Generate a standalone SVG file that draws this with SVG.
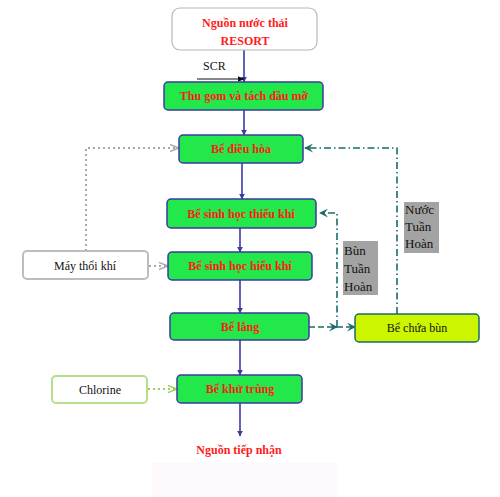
<svg xmlns="http://www.w3.org/2000/svg" width="500" height="497" viewBox="0 0 500 497">
<style>
.p{fill:#22e84a;stroke:#3a3aa8;stroke-width:1.5}
.r{font-family:"Liberation Serif",serif;font-weight:bold;fill:#ff1a1a;font-size:12px;text-anchor:middle}
.k{font-family:"Liberation Serif",serif;fill:#111;font-size:12px}
.g{font-family:"Liberation Serif",serif;fill:#111;font-size:13px}
.m{stroke:#3a3aa8;stroke-width:1.6;fill:none;marker-end:url(#ab)}
.t{stroke:#1a6b6b;stroke-width:1.6;fill:none;marker-end:url(#at)}
.lbl{fill:#a3a3a3}
</style>
<defs>
<marker id="ab" viewBox="0 0 10 10" refX="9" refY="5" markerWidth="6" markerHeight="6" orient="auto" markerUnits="userSpaceOnUse"><path d="M0,0 L10,5 L0,10 Z" fill="#3a3aa8"/></marker>
<marker id="ak" viewBox="0 0 10 10" refX="9" refY="5" markerWidth="7" markerHeight="7" orient="auto" markerUnits="userSpaceOnUse"><path d="M0,1 L10,5 L0,9 Z" fill="#111"/></marker>
<marker id="at" viewBox="0 0 10 10" refX="9" refY="5" markerWidth="9" markerHeight="9" orient="auto" markerUnits="userSpaceOnUse"><path d="M0,0 L10,5 L0,10 L4,5 Z" fill="#1a6b6b"/></marker>
<marker id="ag" viewBox="0 0 10 10" refX="9" refY="5" markerWidth="9" markerHeight="9" orient="auto" markerUnits="userSpaceOnUse"><path d="M0,1 L10,5 L0,9" fill="none" stroke="#a8a8a8" stroke-width="1.5"/></marker>
<marker id="agr" viewBox="0 0 10 10" refX="9" refY="5" markerWidth="9" markerHeight="9" orient="auto" markerUnits="userSpaceOnUse"><path d="M0,1 L10,5 L0,9" fill="none" stroke="#9ad05a" stroke-width="1.5"/></marker>
</defs>
<rect x="152" y="463" width="185" height="34" fill="#fdf9fd"/>
<g id="connectors">
<path class="m" d="M244,50 V82"/>
<path d="M197,79 H244" stroke="#111" stroke-width="1" marker-end="url(#ak)"/>
<path class="m" d="M244,110 V135"/>
<path class="m" d="M242,163 V199"/>
<path class="m" d="M240,228 V252"/>
<path class="m" d="M240,280 V313"/>
<path class="m" d="M240,340 V375"/>
<path class="m" d="M240,403 V436"/>
<path d="M86,251 V148 H178" fill="none" stroke="#a8a8a8" stroke-width="2" stroke-dasharray="2,3" marker-end="url(#ag)"/>
<path d="M149,266 H167" fill="none" stroke="#a8a8a8" stroke-width="2" stroke-dasharray="2,3" marker-end="url(#ag)"/>
<path d="M148,389 H176" fill="none" stroke="#9ad05a" stroke-width="2" stroke-dasharray="2,3" marker-end="url(#agr)"/>
<path class="t" d="M309,327 H337" stroke-dasharray="6,3" marker-end="none"/>
<path class="t" d="M337,327 H355" stroke-dasharray="6,3"/>
<path class="t" d="M337,327 V213 H320" stroke-dasharray="7,3,1.5,3"/>
<path class="t" d="M397,314 V148 H305" stroke-dasharray="7,3,1.5,3"/>
</g>
<g id="n-source"><rect x="172" y="8" width="145" height="42" rx="8" fill="#fff" stroke="#b8b8b8" stroke-width="1.2"/><text class="r" x="245" y="27" font-size="13">Nguồn nước thải</text><text class="r" x="245" y="45" font-size="13">RESORT</text></g>
<g id="scr"><text class="k" x="203" y="70">SCR</text></g>
<g id="n-thugom"><rect class="p" x="164" y="82" width="159" height="28" rx="4"/><text class="r" x="244" y="100">Thu gom và tách dầu mỡ</text></g>
<g id="n-dieuhoa"><rect class="p" x="179" y="135" width="124" height="28" rx="4"/><text class="r" x="241" y="153">Bể điều hòa</text></g>
<g id="n-thieukhi"><rect class="p" x="167" y="199" width="149" height="29" rx="4"/><text class="r" x="241" y="218">Bể sinh học thiếu khí</text></g>
<g id="n-hieukhi"><rect class="p" x="168" y="252" width="144" height="28" rx="4"/><text class="r" x="240" y="270">Bể sinh học hiếu khí</text></g>
<g id="n-lang"><rect class="p" x="170" y="313" width="139" height="27" rx="4"/><text class="r" x="240" y="331">Bể lắng</text></g>
<g id="n-khutrung"><rect class="p" x="177" y="375" width="125" height="28" rx="4"/><text class="r" x="240" y="393">Bể khử trùng</text></g>
<g id="n-tiepnhan"><text class="r" x="239" y="454" font-size="13">Nguồn tiếp nhận</text></g>
<g id="n-may"><rect x="23" y="251" width="125" height="28" rx="4" fill="#fff" stroke="#bdbdbd" stroke-width="2"/><text class="k" x="85" y="270" text-anchor="middle">Máy thổi khí</text></g>
<g id="n-chlorine"><rect x="52" y="376" width="95" height="27" rx="4" fill="#fff" stroke="#b5e08a" stroke-width="2"/><text class="k" x="100" y="394" text-anchor="middle">Chlorine</text></g>
<g id="n-chuabun"><rect x="355" y="314" width="124" height="28" rx="4" fill="#ccf500" stroke="#1a6b6b" stroke-width="1.5"/><text class="k" x="417" y="332" text-anchor="middle">Bể chứa bùn</text></g>
<g id="l-bun"><rect class="lbl" x="343" y="241" width="35" height="54"/><text class="g" x="344" y="255">Bùn</text><text class="g" x="344" y="273">Tuần</text><text class="g" x="344" y="291">Hoàn</text></g>
<g id="l-nuoc"><rect class="lbl" x="404" y="202" width="35" height="51"/><text class="g" x="405" y="214">Nước</text><text class="g" x="405" y="231">Tuần</text><text class="g" x="405" y="248">Hoàn</text></g>
</svg>
